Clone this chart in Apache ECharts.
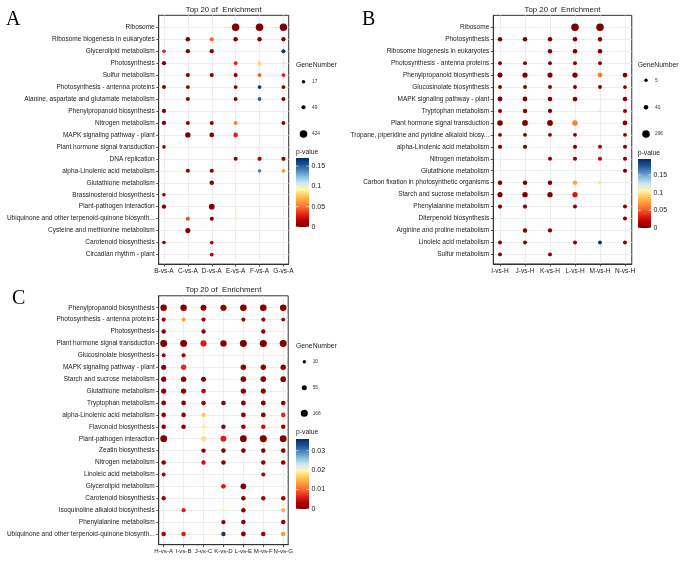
<!DOCTYPE html>
<html><head><meta charset="utf-8">
<script src="https://cdn.jsdelivr.net/npm/echarts@6/dist/echarts.min.js"></script>
<style>html,body{margin:0;padding:0;background:#fff}#chart{width:685px;height:562px}</style>
</head><body><div id="chart"></div>
<script>
// ---------- Panel A ----------
const groupsA = ['B-vs-A','C-vs-A','D-vs-A','E-vs-A','F-vs-A','G-vs-A'];
const pathwaysA = ['Ribosome','Ribosome biogenesis in eukaryotes','Glycerolipid metabolism','Photosynthesis','Sulfur metabolism','Photosynthesis - antenna proteins','Alanine, aspartate and glutamate metabolism','Phenylpropanoid biosynthesis','Nitrogen metabolism','MAPK signaling pathway - plant','Plant hormone signal transduction','DNA replication','alpha-Linolenic acid metabolism','Glutathione metabolism','Brassinosteroid biosynthesis','Plant-pathogen interaction','Ubiquinone and other terpenoid-quinone biosynth...','Cysteine and methionine metabolism','Carotenoid biosynthesis','Circadian rhythm - plant'];
// [pathway row, group column, GeneNumber, p-value]
const pointsA = [
  [0,3,400,0.0005],[0,4,424,0.0004],[0,5,395,0.0006],
  [1,1,75,0.001],[1,2,50,0.045],[1,3,70,0.001],[1,4,65,0.001],[1,5,60,0.002],
  [2,0,22,0.03],[2,1,60,0.001],[2,2,58,0.002],[2,5,45,0.165],
  [3,0,55,0.002],[3,3,35,0.03],[3,4,28,0.082],[3,5,22,0.1],
  [4,1,45,0.002],[4,2,45,0.002],[4,3,45,0.003],[4,4,40,0.045],[4,5,40,0.03],
  [5,0,40,0.002],[5,1,35,0.003],[5,3,35,0.004],[5,4,30,0.165],[5,5,35,0.003],
  [6,1,45,0.003],[6,3,40,0.003],[6,4,35,0.15],[6,5,45,0.004],
  [7,0,55,0.001],
  [8,0,60,0.001],[8,1,42,0.003],[8,2,40,0.004],[8,3,40,0.055],[8,5,40,0.004],
  [9,1,140,0.001],[9,2,90,0.002],[9,3,80,0.03],
  [10,0,22,0.004],
  [11,3,45,0.003],[11,4,50,0.015],[11,5,50,0.006],
  [12,1,45,0.003],[12,2,45,0.003],[12,4,30,0.138],[12,5,30,0.06],
  [13,2,75,0.002],
  [14,0,22,0.004],
  [15,0,60,0.002],[15,2,170,0.001],
  [16,1,40,0.04],[16,2,40,0.003],[16,3,18,0.095],
  [17,1,120,0.001],
  [18,0,22,0.005],[18,2,30,0.018],
  [19,2,30,0.01]
];
const sizeBreaksA = [17,49,424];
const pTicksA = [0,0.05,0.1,0.15];
const pMaxA = 0.17;

// ---------- Panel B ----------
const groupsB = ['I-vs-H','J-vs-H','K-vs-H','L-vs-H','M-vs-H','N-vs-H'];
const pathwaysB = ['Ribosome','Photosynthesis','Ribosome biogenesis in eukaryotes','Photosynthesis - antenna proteins','Phenylpropanoid biosynthesis','Glucosinolate biosynthesis','MAPK signaling pathway - plant','Tryptophan metabolism','Plant hormone signal transduction','Tropane, piperidine and pyridine alkaloid biosy...','alpha-Linolenic acid metabolism','Nitrogen metabolism','Glutathione metabolism','Carbon fixation in photosynthetic organisms','Starch and sucrose metabolism','Phenylalanine metabolism','Diterpenoid biosynthesis','Arginine and proline metabolism','Linoleic acid metabolism','Sulfur metabolism'];
const pointsB = [
  [0,3,296,0.0005],[0,4,280,0.0005],
  [1,0,40,0.001],[1,1,40,0.001],[1,2,38,0.001],[1,3,38,0.001],[1,4,35,0.002],
  [2,2,35,0.002],[2,3,45,0.001],[2,4,42,0.001],
  [3,0,16,0.002],[3,1,16,0.002],[3,2,16,0.002],[3,3,16,0.002],[3,4,16,0.003],
  [4,0,65,0.001],[4,1,75,0.001],[4,2,70,0.001],[4,3,85,0.001],[4,4,60,0.06],[4,5,50,0.002],
  [5,0,16,0.002],[5,1,16,0.002],[5,2,16,0.003],[5,3,16,0.003],[5,4,16,0.004],[5,5,14,0.005],
  [6,0,55,0.001],[6,1,52,0.001],[6,2,45,0.002],[6,3,50,0.002],[6,5,38,0.003],
  [7,0,22,0.003],[7,1,32,0.002],[7,2,30,0.002],[7,4,10,0.115],[7,5,20,0.004],
  [8,0,100,0.001],[8,1,110,0.001],[8,2,110,0.001],[8,3,90,0.062],[8,5,50,0.003],
  [9,0,16,0.003],[9,1,16,0.003],[9,2,16,0.003],[9,3,16,0.004],[9,5,14,0.005],
  [10,0,24,0.002],[10,1,24,0.002],[10,3,24,0.003],[10,4,22,0.02],[10,5,20,0.005],
  [11,2,22,0.005],[11,3,22,0.004],[11,4,22,0.02],[11,5,22,0.004],
  [12,5,24,0.004],
  [13,0,40,0.002],[13,1,40,0.002],[13,2,40,0.002],[13,3,35,0.075],[13,4,14,0.1],
  [14,0,70,0.001],[14,1,90,0.001],[14,2,80,0.001],[14,3,80,0.03],
  [15,0,22,0.003],[15,1,22,0.003],[15,3,20,0.006],[15,5,20,0.005],
  [16,5,20,0.004],
  [17,1,32,0.002],[17,2,28,0.003],
  [18,0,18,0.004],[18,1,20,0.006],[18,3,18,0.006],[18,4,16,0.192],[18,5,18,0.005],
  [19,0,18,0.004],[19,2,18,0.004]
];
const sizeBreaksB = [5,40,296];
const pTicksB = [0,0.05,0.1,0.15];
const pMaxB = 0.195;

// ---------- Panel C ----------
const groupsC = ['H-vs-A','I-vs-B','J-vs-C','K-vs-D','L-vs-E','M-vs-F','N-vs-G'];
const pathwaysC = ['Phenylpropanoid biosynthesis','Photosynthesis - antenna proteins','Photosynthesis','Plant hormone signal transduction','Glucosinolate biosynthesis','MAPK signaling pathway - plant','Starch and sucrose metabolism','Glutathione metabolism','Tryptophan metabolism','alpha-Linolenic acid metabolism','Flavonoid biosynthesis','Plant-pathogen interaction','Zeatin biosynthesis','Nitrogen metabolism','Linoleic acid metabolism','Glycerolipid metabolism','Carotenoid biosynthesis','Isoquinoline alkaloid biosynthesis','Phenylalanine metabolism','Ubiquinone and other terpenoid-quinone biosynth...'];
const pointsC = [
  [0,0,130,0.0005],[0,1,125,0.0005],[0,2,100,0.001],[0,3,110,0.001],[0,4,135,0.0005],[0,5,135,0.0005],[0,6,130,0.0005],
  [1,0,25,0.002],[1,1,20,0.013],[1,2,28,0.002],[1,4,25,0.002],[1,5,25,0.002],[1,6,22,0.002],
  [2,0,35,0.001],[2,2,32,0.001],[2,5,32,0.001],
  [3,0,160,0.0005],[3,1,150,0.0005],[3,2,110,0.006],[3,3,120,0.001],[3,4,160,0.0005],[3,5,168,0.0005],[3,6,160,0.0005],
  [4,0,22,0.002],[4,1,25,0.002],
  [5,0,60,0.001],[5,1,75,0.007],[5,4,75,0.001],[5,5,70,0.001],[5,6,70,0.001],
  [6,0,60,0.001],[6,1,75,0.001],[6,2,55,0.001],[6,4,80,0.001],[6,5,80,0.001],[6,6,85,0.001],
  [7,0,65,0.001],[7,1,70,0.001],[7,2,45,0.004],[7,4,70,0.001],[7,5,60,0.001],
  [8,0,45,0.001],[8,1,45,0.001],[8,2,40,0.002],[8,3,40,0.001],[8,4,50,0.001],[8,5,50,0.001],[8,6,42,0.001],
  [9,0,40,0.001],[9,1,38,0.001],[9,2,25,0.016],[9,4,50,0.001],[9,5,45,0.001],[9,6,40,0.007],
  [10,0,35,0.001],[10,1,40,0.001],[10,2,22,0.019],[10,3,35,0.001],[10,4,40,0.002],[10,5,35,0.005],[10,6,35,0.002],
  [11,0,150,0.0005],[11,2,80,0.018],[11,3,95,0.006],[11,4,150,0.0005],[11,5,160,0.0005],[11,6,150,0.0005],
  [12,2,35,0.001],[12,3,38,0.001],[12,4,38,0.001],[12,5,38,0.001],[12,6,38,0.001],
  [13,0,40,0.001],[13,2,32,0.005],[13,3,40,0.001],[13,5,40,0.001],[13,6,40,0.001],
  [14,0,22,0.002],[14,5,22,0.002],
  [15,3,45,0.006],[15,4,90,0.0005],
  [16,0,30,0.002],[16,4,40,0.001],[16,5,35,0.002],[16,6,35,0.002],
  [17,1,28,0.006],[17,3,18,0.02],[17,4,38,0.001],[17,6,25,0.015],
  [18,3,32,0.001],[18,4,40,0.001],[18,6,35,0.001],
  [19,0,40,0.003],[19,1,40,0.006],[19,3,32,0.035],[19,4,50,0.001],[19,5,40,0.002],[19,6,40,0.013]
];
const sizeBreaksC = [10,55,168];
const pTicksC = [0,0.01,0.02,0.03];
const pMaxC = 0.036;

// ---------- styling / layout ----------
const FONT = '"Liberation Sans", Arial, Helvetica, sans-serif';
const SERIF = '"Liberation Serif", "Times New Roman", serif';
const TXT = '#1a1a1a';
const palette = ['#7f0000','#b30000','#e2231a','#f7652a','#fd9a3a','#fec95a','#fff6b0','#cfe8f0','#8dbfdc','#4a87c0','#1c4f94','#082a66'];

const panels = [
  {groups: groupsA, pathways: pathwaysA, points: pointsA, breaks: sizeBreaksA, pTicks: pTicksA, pMax: pMaxA,
   grid: {left: 158.7, top: 15.3, width: 130, height: 248.8}, xr: [-0.22, 5.22], yr: [-1, 19.8], dmin: 3.4, dmax: 7.6, xFont: 6.5,
   letter: {text: 'A', x: 6, y: 19.5},
   leg: {x: 296, geneY: 65, cx: 303.5, sizeY: [81.7, 107.3, 134], labX: 312, pY: 152.5, bar: [296, 158, 13, 69]}},
  {groups: groupsB, pathways: pathwaysB, points: pointsB, breaks: sizeBreaksB, pTicks: pTicksB, pMax: pMaxB,
   grid: {left: 493.25, top: 15.35, width: 138.5, height: 248.6}, xr: [-0.27, 5.27], yr: [-1, 19.8], dmin: 3.4, dmax: 7.6, xFont: 6.5,
   letter: {text: 'B', x: 362, y: 19.5},
   leg: {x: 637.7, geneY: 65, cx: 646, sizeY: [80.3, 107.3, 134], labX: 655, pY: 152.7, bar: [638, 159, 13, 69]}},
  {groups: groupsC, pathways: pathwaysC, points: pointsC, breaks: sizeBreaksC, pTicks: pTicksC, pMax: pMaxC,
   grid: {left: 158.7, top: 295.8, width: 129.5, height: 248.9}, xr: [-0.25, 6.25], yr: [-1, 19.9], dmin: 3.4, dmax: 7.1, xFont: 6.1,
   letter: {text: 'C', x: 12, y: 299},
   leg: {x: 296, geneY: 345.7, cx: 304.3, sizeY: [361.7, 387.7, 413.3], labX: 312.7, pY: 432.3, bar: [296, 439, 13, 70]}}
];

function sizeFn(p) {
  const lo = Math.sqrt(p.breaks[0]), hi = Math.sqrt(p.breaks[p.breaks.length - 1]);
  return v => p.dmin + (Math.sqrt(v) - lo) / (hi - lo) * (p.dmax - p.dmin);
}

const grids = [], xAxes = [], yAxes = [], series = [], visualMaps = [], graphics = [];
const gradStops = palette.map((c, i) => ({offset: i / (palette.length - 1), color: c}));

panels.forEach((p, i) => {
  const sf = sizeFn(p);
  grids.push(Object.assign({show: true, borderColor: '#333', borderWidth: 1, backgroundColor: '#fff', containLabel: false}, p.grid));
  const xIdx = p.groups.map((_, k) => k);
  const yIdx = p.pathways.map((_, k) => k);
  xAxes.push({
    type: 'value', gridIndex: i, min: p.xr[0], max: p.xr[1],
    axisLine: {show: true, onZero: false, lineStyle: {color: '#333', width: 1}},
    axisTick: {show: true, length: 2.5, customValues: xIdx, lineStyle: {color: '#333', width: 0.8}},
    axisLabel: {customValues: xIdx, formatter: v => p.groups[Math.round(v)] || '', fontSize: p.xFont, fontFamily: FONT, color: TXT, margin: 4, hideOverlap: false},
    splitLine: {show: true, lineStyle: {color: '#e8e8e8', width: 0.8}}
  });
  yAxes.push({
    type: 'value', gridIndex: i, inverse: true, min: p.yr[0], max: p.yr[1],
    axisLine: {show: true, onZero: false, lineStyle: {color: '#333', width: 1}},
    axisTick: {show: true, length: 2.5, customValues: yIdx, lineStyle: {color: '#333', width: 0.8}},
    axisLabel: {customValues: yIdx, formatter: v => p.pathways[Math.round(v)] || '', fontSize: 6.5, fontFamily: FONT, color: TXT, margin: 4, hideOverlap: false},
    splitLine: {show: true, lineStyle: {color: '#e8e8e8', width: 0.8}}
  });
  series.push({
    type: 'scatter', xAxisIndex: i, yAxisIndex: i,
    data: p.points.map(d => [d[1], d[0], d[2], d[3]]),
    symbolSize: v => sf(v[2]),
    itemStyle: {opacity: 1},
    emphasis: {disabled: true}, silent: true
  });
  visualMaps.push({type: 'continuous', show: false, seriesIndex: i, dimension: 3, min: 0, max: p.pMax, inRange: {color: palette}});

  // panel title
  const cx = p.grid.left + p.grid.width / 2;
  graphics.push({type: 'text', x: cx, y: p.grid.top - 5.5, style: {text: 'Top 20 of  Enrichment', fontSize: 7.8, fontFamily: FONT, fill: TXT, textAlign: 'center', textVerticalAlign: 'middle'}});
  // panel letter
  graphics.push({type: 'text', x: p.letter.x, y: p.letter.y, style: {text: p.letter.text, fontSize: 20, fontFamily: SERIF, fill: '#000', textAlign: 'left', textVerticalAlign: 'middle'}});
  // size legend
  const L = p.leg;
  graphics.push({type: 'text', x: L.x, y: L.geneY, style: {text: 'GeneNumber', fontSize: 6.8, fontFamily: FONT, fill: TXT, textAlign: 'left', textVerticalAlign: 'middle'}});
  p.breaks.forEach((b, k) => {
    graphics.push({type: 'circle', shape: {cx: L.cx, cy: L.sizeY[k], r: sf(b) / 2}, style: {fill: '#000'}});
    graphics.push({type: 'text', x: L.labX, y: L.sizeY[k], style: {text: String(b), fontSize: 4.8, fontFamily: FONT, fill: '#333', textAlign: 'left', textVerticalAlign: 'middle'}});
  });
  // colour bar
  graphics.push({type: 'text', x: L.x, y: L.pY, style: {text: 'p-value', fontSize: 6.8, fontFamily: FONT, fill: TXT, textAlign: 'left', textVerticalAlign: 'middle'}});
  const [bx, by, bw, bh] = L.bar;
  graphics.push({type: 'rect', shape: {x: bx, y: by, width: bw, height: bh}, style: {fill: new echarts.graphic.LinearGradient(0, 1, 0, 0, gradStops)}});
  p.pTicks.forEach(t => {
    const ty = by + bh - (t / p.pMax) * bh;
    graphics.push({type: 'line', shape: {x1: bx, y1: ty, x2: bx + 2.6, y2: ty}, style: {stroke: '#fff', lineWidth: 0.6}});
    graphics.push({type: 'line', shape: {x1: bx + bw - 2.6, y1: ty, x2: bx + bw, y2: ty}, style: {stroke: '#fff', lineWidth: 0.6}});
    graphics.push({type: 'text', x: bx + bw + 2.5, y: ty, style: {text: String(t), fontSize: 7, fontFamily: FONT, fill: TXT, textAlign: 'left', textVerticalAlign: 'middle'}});
  });
});

const chart = echarts.init(document.getElementById('chart'), null, {renderer: 'canvas'});
chart.setOption({
  animation: false,
  backgroundColor: '#fff',
  textStyle: {fontFamily: FONT},
  grid: grids, xAxis: xAxes, yAxis: yAxes, series: series, visualMap: visualMaps,
  graphic: graphics
});
</script>
</body></html>
